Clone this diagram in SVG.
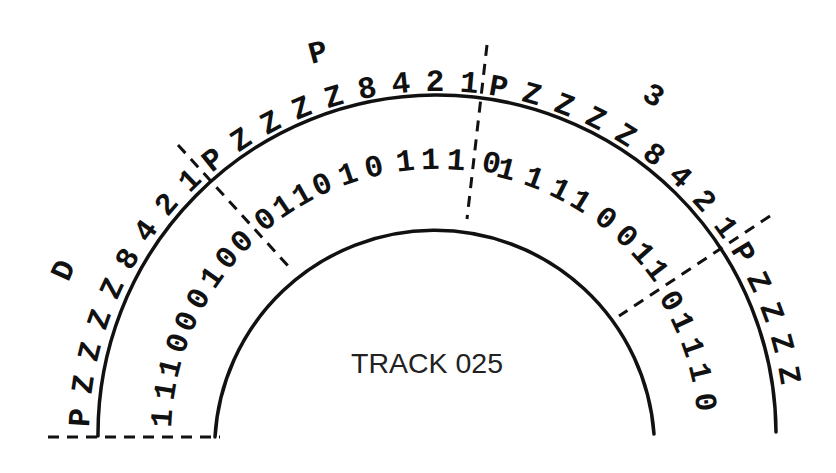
<svg xmlns="http://www.w3.org/2000/svg" width="836" height="473" viewBox="0 0 836 473">
<style>
.arc{fill:none;stroke:#111;stroke-width:3.5;stroke-linecap:round}
.dash{fill:none;stroke:#111;stroke-width:3;stroke-dasharray:11 8}
.ch{font-family:"Liberation Mono","Courier New",monospace;font-weight:bold;font-size:31px;fill:#111;text-anchor:middle}
.lbl{font-family:"Liberation Mono","Courier New",monospace;font-weight:bold;font-size:31px;fill:#111;text-anchor:middle}
.title{font-family:"Liberation Sans",Arial,sans-serif;font-size:28.5px;fill:#222}
</style>
<rect width="836" height="473" fill="#fff"/>
<g id="tracks">
<path class="arc" d="M 98 436 A 339 339 0 0 1 776 432"/>
<path class="arc" d="M 215 437 A 220 220 0 0 1 654 434"/>
</g>
<g id="connectors">
<path class="dash" d="M 48 437 H 220"/>
<path class="dash" d="M 178 145 L 290 268"/>
<path class="dash" d="M 487 45 L 467 219"/>
<path class="dash" d="M 770 216 L 619 316"/>
</g>
<g id="labels">
<text class="lbl" transform="translate(63,270) rotate(-66)" y="10">D</text>
<text class="lbl" transform="translate(318,52) rotate(-15)" y="10">P</text>
<text class="lbl" transform="translate(654,95) rotate(32)" y="10">3</text>
<text class="title" x="351" y="373">TRACK 025</text>
</g>
<g id="char-row">
<text class="ch" transform="translate(79.5,417.4) rotate(-87)" y="10">P</text>
<text class="ch" transform="translate(82.8,384.1) rotate(-81.6)" y="10">Z</text>
<text class="ch" transform="translate(89.3,351.3) rotate(-76.2)" y="10">Z</text>
<text class="ch" transform="translate(98.9,319.3) rotate(-70.8)" y="10">Z</text>
<text class="ch" transform="translate(111.5,288.2) rotate(-65.4)" y="10">Z</text>
<text class="ch" transform="translate(127,258.5) rotate(-60)" y="10">8</text>
<text class="ch" transform="translate(145.2,230.4) rotate(-54.6)" y="10">4</text>
<text class="ch" transform="translate(166,204) rotate(-49.2)" y="10">2</text>
<text class="ch" transform="translate(189.2,179.8) rotate(-43.8)" y="10">1</text>
<text class="ch" transform="translate(212.7,159.3) rotate(-38.8)" y="10">P</text>
<text class="ch" transform="translate(240.5,139.3) rotate(-33.3)" y="10">Z</text>
<text class="ch" transform="translate(270,122) rotate(-27.8)" y="10">Z</text>
<text class="ch" transform="translate(301.2,107.5) rotate(-22.3)" y="10">Z</text>
<text class="ch" transform="translate(333.5,96.2) rotate(-16.8)" y="10">Z</text>
<text class="ch" transform="translate(366.8,87.9) rotate(-11.3)" y="10">8</text>
<text class="ch" transform="translate(400.8,82.8) rotate(-5.8)" y="10">4</text>
<text class="ch" transform="translate(435.1,81) rotate(-0.3)" y="10">2</text>
<text class="ch" transform="translate(469.4,82.5) rotate(5.2)" y="10">1</text>
<text class="ch" transform="translate(498.6,86.3) rotate(9.9)" y="10">P</text>
<text class="ch" transform="translate(532.1,93.7) rotate(15.4)" y="10">Z</text>
<text class="ch" transform="translate(564.7,104.4) rotate(20.9)" y="10">Z</text>
<text class="ch" transform="translate(596.2,118) rotate(26.4)" y="10">Z</text>
<text class="ch" transform="translate(626.2,134.6) rotate(31.9)" y="10">Z</text>
<text class="ch" transform="translate(654.4,154) rotate(37.4)" y="10">8</text>
<text class="ch" transform="translate(680.8,176) rotate(42.9)" y="10">4</text>
<text class="ch" transform="translate(704.7,200.3) rotate(48.4)" y="10">2</text>
<text class="ch" transform="translate(726.3,226.8) rotate(53.9)" y="10">1</text>
<text class="ch" transform="translate(743.5,252.6) rotate(58.9)" y="10">P</text>
<text class="ch" transform="translate(759.3,281.5) rotate(64.2)" y="10">Z</text>
<text class="ch" transform="translate(772.3,311.7) rotate(69.5)" y="10">Z</text>
<text class="ch" transform="translate(782.5,342.9) rotate(74.8)" y="10">Z</text>
<text class="ch" transform="translate(789.7,375) rotate(80.1)" y="10">Z</text>
</g>
<g id="bit-row">
<text class="ch" transform="translate(161.6,418.2) rotate(-86.3)" y="10">1</text>
<text class="ch" transform="translate(164.8,390.4) rotate(-80.5)" y="10">1</text>
<text class="ch" transform="translate(169.6,367.8) rotate(-75.7)" y="10">1</text>
<text class="ch" transform="translate(177.2,343) rotate(-70.3)" y="10">0</text>
<text class="ch" transform="translate(186.1,321.1) rotate(-65.4)" y="10">0</text>
<text class="ch" transform="translate(197.7,298.4) rotate(-60.1)" y="10">0</text>
<text class="ch" transform="translate(211.5,276.9) rotate(-54.8)" y="10">1</text>
<text class="ch" transform="translate(226.5,257.5) rotate(-49.7)" y="10">0</text>
<text class="ch" transform="translate(241.5,241.2) rotate(-45.1)" y="10">0</text>
<text class="ch" transform="translate(264.9,218.9) rotate(-38.4)" y="10">0</text>
<text class="ch" transform="translate(282.9,205.8) rotate(-33.8)" y="10">1</text>
<text class="ch" transform="translate(301.9,194.2) rotate(-29.2)" y="10">1</text>
<text class="ch" transform="translate(321.7,184.1) rotate(-24.6)" y="10">0</text>
<text class="ch" transform="translate(347.7,173.8) rotate(-18.8)" y="10">1</text>
<text class="ch" transform="translate(373.7,166.3) rotate(-13.2)" y="10">0</text>
<text class="ch" transform="translate(405.2,160.8) rotate(-6.6)" y="10">1</text>
<text class="ch" transform="translate(430.2,159.1) rotate(-1.4)" y="10">1</text>
<text class="ch" transform="translate(456.3,159.7) rotate(4)" y="10">1</text>
<text class="ch" transform="translate(491.7,162.4) rotate(11.3)" y="10">0</text>
<text class="ch" transform="translate(506.6,168.9) rotate(14.6)" y="10">1</text>
<text class="ch" transform="translate(534.6,177.8) rotate(20.7)" y="10">1</text>
<text class="ch" transform="translate(560.6,189.2) rotate(26.6)" y="10">1</text>
<text class="ch" transform="translate(581.2,200.7) rotate(31.5)" y="10">1</text>
<text class="ch" transform="translate(606.2,217.9) rotate(37.8)" y="10">0</text>
<text class="ch" transform="translate(627,235.8) rotate(43.5)" y="10">0</text>
<text class="ch" transform="translate(643.4,252.8) rotate(48.4)" y="10">1</text>
<text class="ch" transform="translate(657.4,269.9) rotate(53)" y="10">1</text>
<text class="ch" transform="translate(671.7,300.5) rotate(60)" y="10">0</text>
<text class="ch" transform="translate(682.8,321.9) rotate(65.1)" y="10">1</text>
<text class="ch" transform="translate(692.9,346.9) rotate(70.8)" y="10">1</text>
<text class="ch" transform="translate(700.4,372.3) rotate(76.4)" y="10">1</text>
<text class="ch" transform="translate(705.9,402) rotate(82.8)" y="10">0</text>
</g>
</svg>
